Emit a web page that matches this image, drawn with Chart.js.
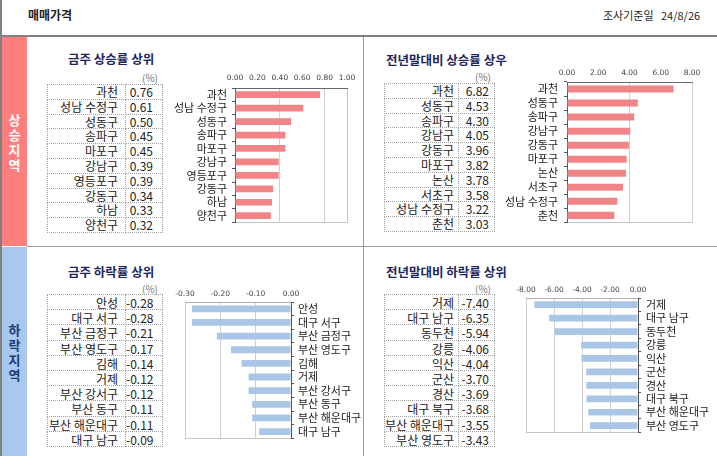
<!DOCTYPE html>
<html>
<head>
<meta charset="utf-8">
<script src="https://cdn.jsdelivr.net/npm/chart.js@4"></script>
<style>
  body { margin: 0; width: 717px; height: 456px; background: #fff; position: relative; overflow: hidden;
         font-family: "Noto Sans CJK KR", "Noto Sans", sans-serif; color: #222; }
  .abs { position: absolute; }
  .line { position: absolute; background: #808080; }
  .title { position: absolute; font-size: 12.5px; font-weight: bold; color: #1c2560; line-height: 16px; white-space: nowrap; }
  .side { position: absolute; left: 2px; width: 25px; text-align: center; font-weight: bold; font-size: 13px; line-height: 15px; }
  .cell { position: absolute; box-sizing: border-box; border: 1px dotted #a0a0a0; font-size: 12px; text-align: right;
          white-space: nowrap; overflow: hidden; }
  .pct { position: absolute; font-size: 10px; color: #777; }
  canvas { position: absolute; }
</style>
</head>
<body>
<div class="abs" style="left:28px;top:6px;font-size:12px;font-weight:bold;">매매가격</div>
<div class="abs" style="left:603px;top:7px;font-size:11px;">조사기준일&nbsp;&nbsp;&nbsp;24/8/26</div>

<div class="line" style="left:0;top:0;width:2px;height:456px;"></div>
<div class="line" style="left:0;top:35px;width:717px;height:2px;"></div>
<div class="line" style="left:27px;top:246px;width:690px;height:1px;background:#999;"></div>
<div class="line" style="left:363px;top:37px;width:1px;height:419px;background:#999;"></div>

<div class="side" style="top:37px;height:209px;background:#ff7f7f;color:#fff;">
  <div style="padding-top:75px;">상<br>승<br>지<br>역</div>
</div>
<div class="side" style="top:247px;height:209px;background:#a8c8ee;color:#1d3a7a;">
  <div style="padding-top:75px;">하<br>락<br>지<br>역</div>
</div>

<div class="title" style="left:68px;top:51px;">금주 상승률 상위</div>
<div class="title" style="left:386px;top:52px;">전년말대비 상승률 상우</div>
<div class="title" style="left:68px;top:264px;">금주 하락률 상위</div>
<div class="title" style="left:386px;top:264px;">전년말대비 하락률 상위</div>

<div class="pct" style="left:142px;top:70px;">(%)</div>
<div class="pct" style="left:475px;top:69px;">(%)</div>
<div class="pct" style="left:142px;top:281px;">(%)</div>
<div class="pct" style="left:475px;top:281px;">(%)</div>

<div id="tables"></div>
<canvas id="c1" width="196" height="164" style="left:165px;top:70px;"></canvas>
<canvas id="c2" width="228" height="169" style="left:479px;top:66px;"></canvas>
<canvas id="c3" width="196" height="161" style="left:170px;top:288px;"></canvas>
<canvas id="c4" width="202" height="160" style="left:511px;top:284px;"></canvas>

<script>
// 금주 상승률 상위
const upWeekNames = ["과천", "성남 수정구", "성동구", "송파구", "마포구", "강남구", "영등포구", "강동구", "하남", "양천구"];
const upWeekVals = [0.76, 0.61, 0.50, 0.45, 0.45, 0.39, 0.39, 0.34, 0.33, 0.32];
// 전년말대비 상승률
const upYearNames = ["과천", "성동구", "송파구", "강남구", "강동구", "마포구", "논산", "서초구", "성남 수정구", "춘천"];
const upYearVals = [6.82, 4.53, 4.30, 4.05, 3.96, 3.82, 3.78, 3.58, 3.22, 3.03];
// 금주 하락률 상위
const downWeekNames = ["안성", "대구 서구", "부산 금정구", "부산 영도구", "김해", "거제", "부산 강서구", "부산 동구", "부산 해운대구", "대구 남구"];
const downWeekVals = [-0.28, -0.28, -0.21, -0.17, -0.14, -0.12, -0.12, -0.11, -0.11, -0.09];
// 전년말대비 하락률
const downYearNames = ["거제", "대구 남구", "동두천", "강릉", "익산", "군산", "경산", "대구 북구", "부산 해운대구", "부산 영도구"];
const downYearVals = [-7.40, -6.35, -5.94, -4.06, -4.04, -3.70, -3.69, -3.68, -3.55, -3.43];

// 표 그리기
function makeTable(names, vals, x, y, nameW, valW, rowH, padName, padVal) {
  const box = document.getElementById("tables");
  names.forEach((n, i) => {
    const top = y + i * rowH;
    const a = document.createElement("div");
    a.className = "cell";
    a.style.cssText = `left:${x}px;top:${top}px;width:${nameW + 1}px;height:${rowH + 1}px;line-height:${rowH}px;padding-right:${padName}px;`;
    a.textContent = n;
    const b = document.createElement("div");
    b.className = "cell";
    b.style.cssText = `left:${x + nameW}px;top:${top}px;width:${valW}px;height:${rowH + 1}px;line-height:${rowH}px;padding-right:${padVal}px;`;
    b.textContent = vals[i].toFixed(2);
    box.appendChild(a);
    box.appendChild(b);
  });
}

makeTable(upWeekNames, upWeekVals, 47, 84, 78, 38, 14.8, 7, 9);
makeTable(upYearNames, upYearVals, 384, 83, 74, 37, 14.8, 4, 5);
makeTable(downWeekNames, downWeekVals, 47, 294, 78, 38, 15.2, 7, 9);
makeTable(downYearNames, downYearVals, 384, 294, 74, 37, 15.2, 4, 5);

// 플롯 테두리
const frame = {
  id: "frame",
  beforeDraw(chart) {
    const a = chart.chartArea;
    const ctx = chart.ctx;
    ctx.save();
    ctx.strokeStyle = "#c4c4c4";
    ctx.lineWidth = 1;
    ctx.strokeRect(Math.round(a.left) + 0.5, Math.round(a.top) + 0.5, Math.round(a.right - a.left), Math.round(a.bottom - a.top));
    ctx.restore();
  }
};

function makeChart(id, names, vals, o) {
  const ctx = document.getElementById(id).getContext("2d");
  return new Chart(ctx, {
    type: "bar",
    data: {
      labels: names,
      datasets: [{
        data: vals,
        backgroundColor: o.color,
        borderWidth: 0,
        barPercentage: 0.5,
        categoryPercentage: 1
      }]
    },
    options: {
      responsive: false,
      animation: false,
      indexAxis: "y",
      layout: { padding: o.padding },
      plugins: { legend: { display: false }, tooltip: { enabled: false } },
      scales: {
        x: {
          position: "top",
          min: o.min,
          max: o.max,
          ticks: {
            stepSize: o.step,
            font: { family: "DejaVu Sans", size: 7.5 },
            color: "#444",
            padding: o.xPad,
            maxRotation: 0,
            callback: (v) => Number(v).toFixed(2)
          },
          grid: {
            drawTicks: false,
            color: (c) => (o.allGrid || (c.index % 2 === 0 && c.index > 0)) ? "#cfcfcf" : "rgba(0,0,0,0)"
          },
          border: { color: o.allGrid ? "#b0b0b0" : "#666" },
          afterFit: (s) => { s.height = o.xH; }
        },
        y: {
          position: o.yPos,
          ticks: {
            font: { family: "Noto Sans CJK KR", size: 11 },
            color: "#222",
            padding: o.yPad,
            autoSkip: false
          },
          grid: { drawOnChartArea: false, tickLength: 3, color: "#555", offset: true },
          border: { color: "#555" },
          afterFit: (s) => { s.width = o.yW; }
        }
      }
    },
    plugins: [frame]
  });
}

makeChart("c1", upWeekNames, upWeekVals, {
  color: "#f08486", min: 0, max: 1, step: 0.2, yPos: "left", yW: 70, xH: 18, xPad: 5, yPad: 5,
  padding: { right: 14, bottom: 2 }, allGrid: false
});
makeChart("c2", upYearNames, upYearVals, {
  color: "#f08486", min: 0, max: 8, step: 2, yPos: "left", yW: 88, xH: 16, xPad: 4, yPad: 6,
  padding: { right: 15, bottom: 2 }, allGrid: false
});
makeChart("c3", downWeekNames, downWeekVals, {
  color: "#a9c6e6", min: -0.3, max: 0, step: 0.1, yPos: "right", yW: 75, xH: 14, xPad: 3, yPad: 4,
  padding: { left: 15, bottom: 2 }, allGrid: true
});
makeChart("c4", downYearNames, downYearVals, {
  color: "#a9c6e6", min: -8, max: 0, step: 2, yPos: "right", yW: 75, xH: 14, xPad: 3, yPad: 5,
  padding: { left: 15, bottom: 2 }, allGrid: true
});
</script>
</body>
</html>
